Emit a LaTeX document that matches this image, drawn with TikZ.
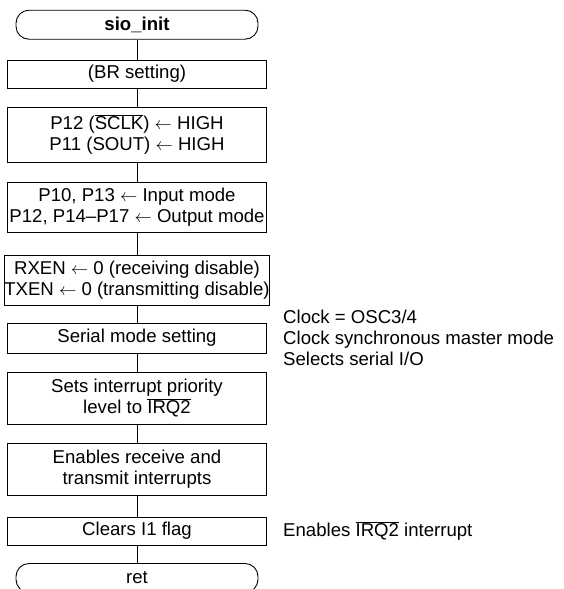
\documentclass[tikz,border=0pt]{standalone}
\usepackage{fontspec}
\setmainfont{Liberation Sans}
\begin{document}
\begin{tikzpicture}[x=1pt,y=-1pt,
  every node/.style={font=\fontsize{18.6}{21}\selectfont},
  box/.style={draw,line width=0.9pt,minimum width=259pt,inner sep=0pt,align=center},
  term/.style={draw,line width=0.9pt,minimum width=242pt,minimum height=29pt,inner sep=0pt,rounded corners=13pt},
  note/.style={anchor=west,inner sep=0pt,align=left},
  conn/.style={line width=0.9pt}]
\useasboundingbox (0,0) rectangle (563,589);
\node[term,font=\fontsize{18.6}{21}\selectfont\bfseries] (start) at (137,24.7) {sio\_init};
\node[box,minimum height=28pt] (br) at (137,74) {(BR setting)};
\node[box,minimum height=55pt] (p12) at (137,134.5) {P12 ($\overline{\mbox{SCLK}}$) $\leftarrow$ HIGH\\P11 (SOUT) $\leftarrow$ HIGH};
\node[box,minimum height=50pt] (p10) at (137,207) {P10, P13 $\leftarrow$ Input mode\\P12, P14\textendash P17 $\leftarrow$ Output mode};
\node[box,minimum height=50pt] (rx) at (137,280) {RXEN $\leftarrow$ 0 (receiving disable)\\TXEN $\leftarrow$ 0 (transmitting disable)};
\node[box,minimum height=30pt] (ser) at (137,338) {Serial mode setting};
\node[box,minimum height=52pt] (irq) at (137,398) {Sets interrupt priority\\level to $\overline{\mbox{IRQ2}}$};
\node[box,minimum height=52pt] (en) at (137,469) {Enables receive and\\transmit interrupts};
\node[box,minimum height=28pt] (clr) at (137,531) {Clears I1 flag};
\node[term] (ret) at (137,578) {ret};
\node[note] (n1) at (283,338) {Clock = OSC3/4\\Clock synchronous master mode\\Selects serial I/O};
\node[note] (n2) at (283,531) {Enables $\overline{\mbox{IRQ2}}$ interrupt};
\draw[conn] (start) -- (br);
\draw[conn] (br) -- (p12);
\draw[conn] (p12) -- (p10);
\draw[conn] (p10) -- (rx);
\draw[conn] (rx) -- (ser);
\draw[conn] (ser) -- (irq);
\draw[conn] (irq) -- (en);
\draw[conn] (en) -- (clr);
\draw[conn] (clr) -- (ret);
\end{tikzpicture}
\end{document}
